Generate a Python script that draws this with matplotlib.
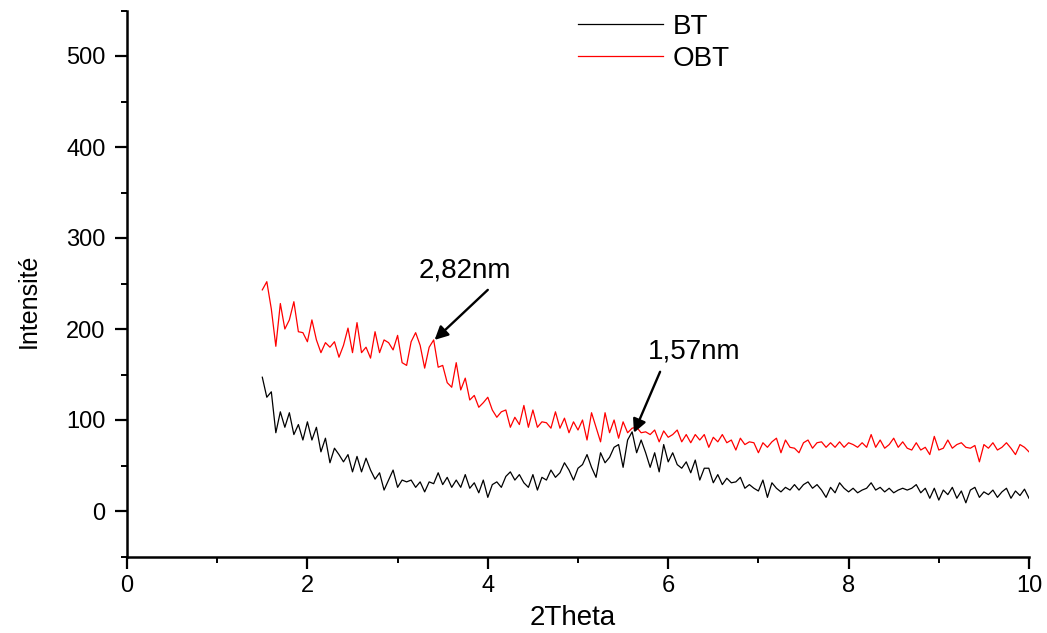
import matplotlib
matplotlib.use("Agg")
import matplotlib.pyplot as plt
import numpy as np

plt.rcParams['font.family'] = ['Liberation Sans', 'DejaVu Sans']

# 2theta grid (step 0.05 deg) and intensities
two_theta = np.round(1.5 + 0.05 * np.arange(171), 2)

obt = [
    243, 252, 222, 181, 228, 200, 210, 230, 197, 196,
    186, 210, 188, 174, 185, 180, 186, 169, 182, 201,
    174, 207, 174, 180, 168, 197, 174, 188, 185, 177,
    193, 163, 160, 186, 196, 182, 157, 180, 188, 158,
    160, 141, 136, 163, 133, 146, 122, 127, 114, 119,
    125, 111, 103, 109, 111, 92, 103, 95, 116, 92,
    111, 92, 98, 97, 91, 109, 91, 102, 86, 98,
    89, 100, 78, 108, 92, 76, 108, 86, 100, 80,
    98, 86, 91, 92, 86, 87, 84, 89, 76, 88,
    81, 84, 89, 76, 84, 75, 84, 78, 84, 70,
    81, 76, 84, 75, 78, 67, 80, 73, 76, 75,
    64, 75, 70, 76, 80, 64, 78, 70, 69, 64,
    75, 78, 69, 75, 76, 70, 75, 70, 76, 70,
    75, 73, 70, 75, 70, 84, 70, 78, 69, 73,
    80, 70, 76, 69, 67, 75, 67, 70, 62, 82,
    67, 69, 78, 69, 73, 75, 70, 69, 72, 54,
    73, 69, 75, 67, 70, 75, 69, 62, 73, 70,
    65,
]

bt = [
    147, 125, 131, 86, 109, 92, 108, 84, 95, 78,
    98, 78, 92, 65, 80, 53, 69, 62, 54, 62,
    43, 60, 43, 58, 45, 35, 42, 23, 34, 45,
    26, 34, 32, 34, 26, 32, 21, 32, 30, 42,
    29, 37, 26, 34, 26, 40, 25, 31, 20, 34,
    15, 29, 32, 26, 38, 43, 34, 40, 31, 26,
    40, 23, 37, 34, 45, 37, 42, 53, 45, 34,
    47, 51, 62, 48, 37, 64, 53, 59, 70, 73,
    48, 78, 87, 64, 78, 64, 48, 64, 43, 73,
    54, 64, 51, 47, 54, 42, 56, 34, 47, 47,
    31, 40, 29, 36, 31, 32, 37, 25, 29, 25,
    22, 34, 15, 31, 25, 21, 26, 23, 29, 23,
    29, 32, 25, 29, 23, 15, 26, 20, 31, 25,
    21, 25, 20, 23, 25, 31, 23, 26, 21, 25,
    20, 23, 25, 23, 25, 29, 20, 25, 14, 25,
    12, 23, 18, 26, 14, 22, 9, 23, 26, 15,
    21, 18, 23, 15, 21, 25, 14, 22, 17, 24,
    14,
]

# peak labels: text, text centre, arrow start, arrow tip
peaks = [
    ("2,82nm", (3.75, 264), (4.00, 243), (3.41, 188)),
    ("1,57nm", (6.29, 175), (5.91, 153), (5.62, 86)),
]

fig = plt.figure(figsize=(10.47, 6.33), dpi=100)
ax = fig.add_axes([127 / 1047, 1 - 556.5 / 633, 902 / 1047, 546 / 633])

ax.plot(two_theta, bt, color="black", lw=0.9, label="BT")
ax.plot(two_theta, obt, color="red", lw=0.9, label="OBT")

ax.set_xlim(0, 10)
ax.set_ylim(-50, 550)
ax.set_xticks(np.arange(0, 11, 2))
ax.set_xticks(np.arange(1, 10, 2), minor=True)
ax.set_yticks(np.arange(0, 501, 100))
ax.set_yticks(np.arange(-50, 551, 100), minor=True)

for side in ["top", "right"]:
    ax.spines[side].set_visible(False)
for side in ["left", "bottom"]:
    ax.spines[side].set_linewidth(1.8)

ax.tick_params(which="major", direction="out", length=8.5, width=1.6,
               labelsize=17)
ax.tick_params(which="minor", direction="out", length=4.2, width=1.4)
ax.tick_params(axis="y", which="major", pad=7)
ax.tick_params(axis="x", which="major", pad=5)

ax.set_xlabel("2Theta", fontsize=20)
ax.set_ylabel("Intensité", fontsize=18)
ax.xaxis.set_label_coords(0.494, -0.088)
ax.yaxis.set_label_coords(-0.096, 0.469)

for text, xy_text, xy_start, xy_tip in peaks:
    ax.text(*xy_text, text, fontsize=20, ha="center", va="center")
    ax.annotate("", xy=xy_tip, xytext=xy_start,
                arrowprops=dict(arrowstyle="-|>", color="black", lw=1.7,
                                mutation_scale=20, shrinkA=0, shrinkB=0))

leg = fig.legend(loc="upper left", bbox_to_anchor=(578 / 1047, 1 - 14 / 633),
                 bbox_transform=fig.transFigure, frameon=False,
                 fontsize=20, handlelength=3.05, handletextpad=0.36,
                 labelspacing=0.22, borderpad=0, borderaxespad=0)

fig.savefig("out.png", dpi=100)
